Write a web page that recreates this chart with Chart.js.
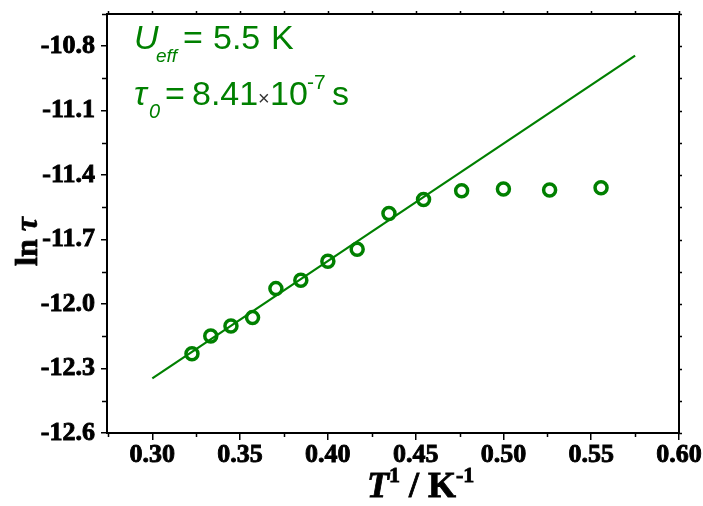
<!DOCTYPE html>
<html>
<head>
<meta charset="utf-8">
<script src="https://cdn.jsdelivr.net/npm/chart.js@4/dist/chart.umd.min.js"></script>
<style>
  html, body { margin: 0; padding: 0; background: #fff; }
  #wrap { width: 703px; height: 506px; }
</style>
</head>
<body>
<div id="wrap"><canvas id="c" width="703" height="506"></canvas></div>
<script>
// Inverse temperature (K^-1) and measured relaxation times (ln tau)
const invT = [0.3226, 0.3333, 0.3448, 0.3571, 0.3704, 0.3846, 0.4000, 0.4167,
              0.4348, 0.4545, 0.4762, 0.5000, 0.5263, 0.5556];
const lnTau = [-12.231, -12.149, -12.102, -12.063, -11.928, -11.889, -11.801, -11.745,
               -11.578, -11.513, -11.473, -11.464, -11.469, -11.459];

// Arrhenius fit line end points
const fitX = [0.300, 0.575];
const fitY = [-12.346, -10.844];

// Axis ticks
const xTicks = [0.30, 0.35, 0.40, 0.45, 0.50, 0.55, 0.60];
const yTicks = [-12.6, -12.3, -12.0, -11.7, -11.4, -11.1, -10.8];
const xMinor = [0.275, 0.325, 0.375, 0.425, 0.475, 0.525, 0.575];
const yMinor = [-12.45, -12.15, -11.85, -11.55, -11.25, -10.95, -10.65];

const GREEN = '#008000';
const SERIF = '"Liberation Serif", "Times New Roman", serif';
const SANS = '"Liberation Sans", Arial, sans-serif';

function heavyText(ctx, t, x, y, w) {
  ctx.lineWidth = w;
  ctx.strokeText(t, x, y);
  ctx.fillText(t, x, y);
}

const decorations = {
  id: 'decorations',
  afterDraw(chart) {
    const ctx = chart.ctx;
    const a = chart.chartArea;
    const xs = chart.scales.x, ys = chart.scales.y;
    ctx.save();
    ctx.strokeStyle = '#000';
    ctx.lineWidth = 2;
    // top and right frame
    ctx.beginPath();
    ctx.moveTo(a.left, a.top); ctx.lineTo(a.right, a.top); ctx.lineTo(a.right, a.bottom);
    ctx.stroke();
    ctx.lineWidth = 1.5;
    // minor ticks bottom / top
    ctx.beginPath();
    xMinor.forEach(v => {
      const px = Math.round(xs.getPixelForValue(v)) + 0.5;
      if (px < a.left - 1 || px > a.right + 1) return;
      ctx.moveTo(px, a.bottom); ctx.lineTo(px, a.bottom + 4);
      ctx.moveTo(px, a.top); ctx.lineTo(px, a.top - 3);
    });
    xTicks.forEach(v => {
      const px = Math.round(xs.getPixelForValue(v)) + 0.5;
      ctx.moveTo(px, a.top); ctx.lineTo(px, a.top - 3);
    });
    // minor ticks left / right
    yMinor.forEach(v => {
      const py = Math.round(ys.getPixelForValue(v)) + 0.5;
      if (py < a.top - 1 || py > a.bottom + 1) return;
      ctx.moveTo(a.left, py); ctx.lineTo(a.left - 5, py);
      ctx.moveTo(a.right, py); ctx.lineTo(a.right + 3, py);
    });
    yTicks.forEach(v => {
      const py = Math.round(ys.getPixelForValue(v)) + 0.5;
      ctx.moveTo(a.right, py); ctx.lineTo(a.right + 3, py);
    });
    ctx.stroke();

    // axis titles
    ctx.fillStyle = '#000';
    ctx.strokeStyle = '#000';
    ctx.textBaseline = 'alphabetic';
    ctx.textAlign = 'left';
    let x = 367, base = 497;
    const runs = [
      ['T', 'italic bold 36px ' + SERIF, 0],
      ['1', 'bold 22px ' + SERIF, -15],
      [' / K', 'bold 36px ' + SERIF, 0],
      ['-1', 'bold 22px ' + SERIF, -15]
    ];
    runs.forEach(([t, f, dy]) => {
      ctx.font = f;
      heavyText(ctx, t, x, base + dy, 0.8);
      x += ctx.measureText(t).width;
    });

    ctx.save();
    ctx.translate(37, 266);
    ctx.rotate(-Math.PI / 2);
    ctx.font = 'bold 32px ' + SERIF;
    heavyText(ctx, 'ln ', 0, 0, 0.8);
    let w = ctx.measureText('ln ').width;
    ctx.font = 'italic bold 32px ' + SERIF;
    heavyText(ctx, '\u03C4', w, 0, 0.6);
    ctx.restore();

    // fit parameters
    ctx.fillStyle = GREEN;
    ctx.font = 'italic 34px ' + SANS;
    ctx.fillText('U', 134, 49);
    ctx.font = 'italic 19px ' + SANS;
    ctx.fillText('eff', 156, 62);
    ctx.font = '34px ' + SANS;
    ctx.fillText('=', 183, 49);
    ctx.fillText('5.5', 213, 49);
    ctx.fillText('K', 271, 49);

    ctx.font = 'italic 34px ' + SANS;
    ctx.fillText('\u03C4', 134, 105);
    ctx.font = 'italic 20px ' + SANS;
    ctx.fillText('0', 149, 118);
    ctx.font = '34px ' + SANS;
    ctx.fillText('=', 165, 105);
    ctx.fillText('8.41', 192, 105);
    ctx.font = '20px ' + SANS;
    ctx.fillStyle = '#333';
    ctx.fillText('\u00D7', 258, 105);
    ctx.fillStyle = GREEN;
    ctx.font = '34px ' + SANS;
    ctx.fillText('10', 270, 105);
    ctx.font = '21px ' + SANS;
    ctx.fillText('-7', 307, 89);
    ctx.font = '34px ' + SANS;
    ctx.fillText('s', 332, 105);
    ctx.restore();
  }
};

const tickFont = { family: SERIF, size: 26, weight: 'bold' };

new Chart(document.getElementById('c'), {
  type: 'scatter',
  data: {
    datasets: [
      {
        label: 'fit',
        data: fitX.map((v, i) => ({ x: v, y: fitY[i] })),
        showLine: true,
        borderColor: GREEN,
        borderWidth: 2.2,
        pointRadius: 0,
        fill: false
      },
      {
        label: 'ln tau',
        data: invT.map((v, i) => ({ x: v, y: lnTau[i] })),
        showLine: false,
        pointStyle: 'circle',
        pointRadius: 6,
        pointBorderWidth: 3.5,
        pointBorderColor: GREEN,
        pointBackgroundColor: 'rgba(0,0,0,0)'
      }
    ]
  },
  options: {
    responsive: false,
    animation: false,
    devicePixelRatio: 1,
    layout: { padding: { left: 0, top: 14, right: 24, bottom: 0 } },
    plugins: { legend: { display: false }, tooltip: { enabled: false } },
    scales: {
      x: {
        type: 'linear',
        min: 0.2742,
        max: 0.60,
        afterBuildTicks: s => { s.ticks = xTicks.map(v => ({ value: v })); },
        afterFit: s => { s.height = 73; s.paddingLeft = 0; s.paddingRight = 0; },
        ticks: {
          font: tickFont, color: '#000', padding: 0, maxRotation: 0, autoSkip: false,
          textStrokeColor: '#000', textStrokeWidth: 0.9,
          callback: v => v.toFixed(2)
        },
        grid: { drawOnChartArea: false, drawTicks: true, tickLength: 7, color: '#000', lineWidth: 1.5 },
        border: { display: true, color: '#000', width: 2 }
      },
      y: {
        type: 'linear',
        min: -12.6,
        max: -10.65,
        afterBuildTicks: s => { s.ticks = yTicks.map(v => ({ value: v })); },
        afterFit: s => { s.width = 107; s.paddingTop = 0; s.paddingBottom = 0; },
        ticks: {
          font: tickFont, color: '#000', padding: 6, autoSkip: false,
          textStrokeColor: '#000', textStrokeWidth: 0.9,
          callback: v => v.toFixed(1)
        },
        grid: { drawOnChartArea: false, drawTicks: true, tickLength: 6, color: '#000', lineWidth: 1.5 },
        border: { display: true, color: '#000', width: 2 }
      }
    }
  },
  plugins: [decorations]
});
</script>
</body>
</html>
